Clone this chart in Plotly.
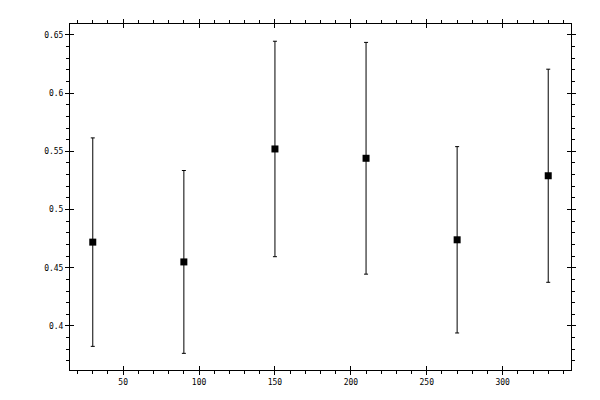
import plotly.graph_objects as go

x_vals = [30, 90, 150, 210, 270, 330]
y_vals = [0.472, 0.455, 0.552, 0.544, 0.474, 0.529]
y_err = [0.0895, 0.0785, 0.0925, 0.0995, 0.080, 0.0915]

x_range = [15, 345]
y_range = [0.3622, 0.6593]

tick_font = dict(family="DejaVu Sans Mono", size=8, color="black")

fig = go.Figure()

fig.add_trace(go.Scatter(
    x=x_vals,
    y=y_vals,
    mode='markers',
    marker=dict(symbol='square', size=7, color='black'),
    error_y=dict(type='data', array=y_err, visible=True,
                 color='black', thickness=1, width=2),
    showlegend=False,
))

# invisible copy on overlay axes, used only for the inward half of major ticks
fig.add_trace(go.Scatter(
    x=x_vals,
    y=y_vals,
    mode='markers',
    marker=dict(opacity=0),
    xaxis='x2',
    yaxis='y2',
    hoverinfo='skip',
    showlegend=False,
))

axis_common = dict(
    showline=True, linecolor='black', linewidth=1, mirror='ticks',
    ticks='outside', ticklen=4, tickwidth=1, tickcolor='black',
    showgrid=False, zeroline=False, tickfont=tick_font,
)

# page body adds an 8px offset, margins account for it
fig.update_layout(
    width=600,
    height=400,
    paper_bgcolor='white',
    plot_bgcolor='white',
    margin=dict(l=62, r=37, t=11, b=38),
    xaxis=dict(range=x_range, tick0=0, dtick=50,
               minor=dict(dtick=10, ticks='outside', ticklen=3,
                          tickcolor='black', showgrid=False),
               **axis_common),
    yaxis=dict(range=y_range, tick0=0, dtick=0.05,
               minor=dict(dtick=0.01, ticks='outside', ticklen=3,
                          tickcolor='black', showgrid=False),
               **axis_common),
    xaxis2=dict(range=x_range, tick0=0, dtick=50, overlaying='x',
                anchor='y2', side='bottom', ticks='inside', ticklen=4,
                tickcolor='black', mirror='ticks', showline=False,
                showticklabels=False, showgrid=False, zeroline=False),
    yaxis2=dict(range=y_range, tick0=0, dtick=0.05, overlaying='y',
                anchor='x2', side='left', ticks='inside', ticklen=4,
                tickcolor='black', mirror='ticks', showline=False,
                showticklabels=False, showgrid=False, zeroline=False),
)

fig.write_html("out.html")
